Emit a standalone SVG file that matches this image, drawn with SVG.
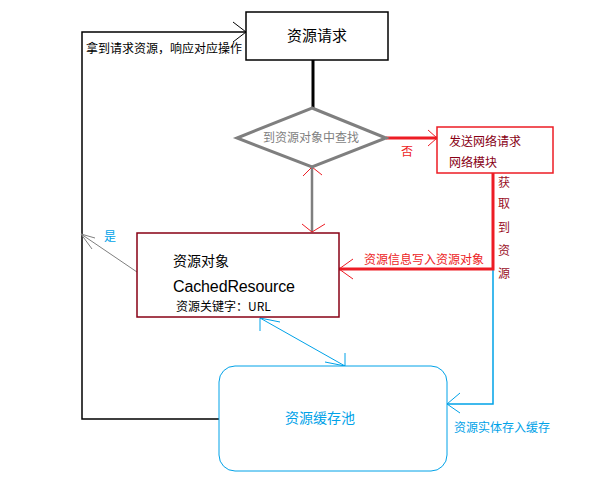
<svg xmlns="http://www.w3.org/2000/svg" width="594" height="491" viewBox="0 0 594 491">
<style>
text{font-family:"Noto Sans CJK SC","Liberation Sans",sans-serif;}
.t12{font-size:12px;}
.thin{fill:none;stroke-width:1;}
</style>
<rect width="594" height="491" fill="#fff"/>
<g id="connectors" fill="none">
  <!-- request to diamond -->
  <line x1="313" y1="60" x2="313" y2="108" stroke="#000" stroke-width="3"/>
  <!-- pool to request loop -->
  <polyline points="219,419 82,419 82,32 246,32" stroke="#000" stroke-width="1.5"/>
  <polyline points="233,22 246,32 233,42" stroke="#000" stroke-width="1"/>
  <!-- diamond to network (否) -->
  <line x1="386" y1="138" x2="437" y2="138" stroke="#ed1c24" stroke-width="3"/>
  <polyline points="428,130 437,138 428,146" stroke="#ed1c24" stroke-width="1"/>
  <!-- diamond <-> cached resource -->
  <line x1="312" y1="168" x2="312" y2="232" stroke="#7f7f7f" stroke-width="2.5"/>
  <polyline points="303,176 312,167 322,175" stroke="#ed1c24" stroke-width="1"/>
  <polyline points="302,224 312,232 325,224" stroke="#ed1c24" stroke-width="1"/>
  <!-- 是 -->
  <line x1="137" y1="272" x2="81" y2="234" stroke="#7f7f7f" stroke-width="1"/>
  <polyline points="95,238 81,234 92,249" stroke="#7f7f7f" stroke-width="1"/>
  <!-- blue network to pool -->
  <polyline points="493,245 493,404 447,404" stroke="#00a2e8" stroke-width="1.5"/>
  <polyline points="460,393 447,404 460,413" stroke="#00a2e8" stroke-width="1"/>
  <!-- red network to cached -->
  <polyline points="493,173 493,269 339,269" stroke="#ed1c24" stroke-width="3"/>
  <polyline points="353,259 339,269 353,279" stroke="#ed1c24" stroke-width="1"/>
  <!-- blue cached <-> pool -->
  <line x1="260" y1="318" x2="345" y2="366" stroke="#00a2e8" stroke-width="1"/>
  <polyline points="260,331 260,318 280,322" stroke="#00a2e8" stroke-width="1"/>
  <polyline points="345,353 345,366 325,362" stroke="#00a2e8" stroke-width="1"/>
  <!-- labels -->
  <text x="86" y="53" class="t12" fill="#000">拿到请求资源，响应对应操作</text>
  <text x="407" y="156" class="t12" fill="#ed1c24" text-anchor="middle">否</text>
  <text x="110" y="241" class="t12" fill="#00a2e8" text-anchor="middle">是</text>
  <text x="364" y="264" class="t12" fill="#ed1c24">资源信息写入资源对象</text>
  <g class="t12" fill="#9a0f1f" text-anchor="middle">
    <text x="504" y="187">获</text>
    <text x="504" y="208">取</text>
    <text x="504" y="232">到</text>
    <text x="504" y="255">资</text>
    <text x="504" y="278">源</text>
  </g>
  <text x="454" y="432" class="t12" fill="#00a2e8">资源实体存入缓存</text>
</g>
<g id="request">
  <rect x="246" y="12" width="142" height="48" fill="#fff" stroke="#000" stroke-width="1.5"/>
  <text x="317" y="41" font-size="15" fill="#000" text-anchor="middle">资源请求</text>
</g>
<g id="lookup">
  <polygon points="312,108 386,138 312,167 237,138" fill="#fff" stroke="#7f7f7f" stroke-width="3"/>
  <text x="311" y="142" class="t12" fill="#7f7f7f" text-anchor="middle">到资源对象中查找</text>
</g>
<g id="network">
  <rect x="437" y="127" width="116" height="46" fill="#fff" stroke="#ed1c24" stroke-width="1.5"/>
  <text x="449" y="146" class="t12" fill="#880015">发送网络请求</text>
  <text x="449" y="167" class="t12" fill="#880015">网络模块</text>
</g>
<g id="cached">
  <rect x="137" y="233" width="202" height="84" fill="#fff" stroke="#880015" stroke-width="1.5"/>
  <text x="173" y="266" font-size="14" fill="#000">资源对象</text>
  <text x="173" y="292" font-size="16" fill="#000" style="font-family:'Liberation Sans',sans-serif" textLength="122">CachedResource</text>
  <text x="176" y="311" class="t12" fill="#000">资源关键字：URL</text>
</g>
<g id="pool">
  <rect x="219" y="366" width="228" height="105" rx="16" fill="#fff" stroke="#00a2e8" stroke-width="1"/>
  <text x="320" y="423" font-size="14" fill="#00a2e8" text-anchor="middle">资源缓存池</text>
</g>
</svg>
